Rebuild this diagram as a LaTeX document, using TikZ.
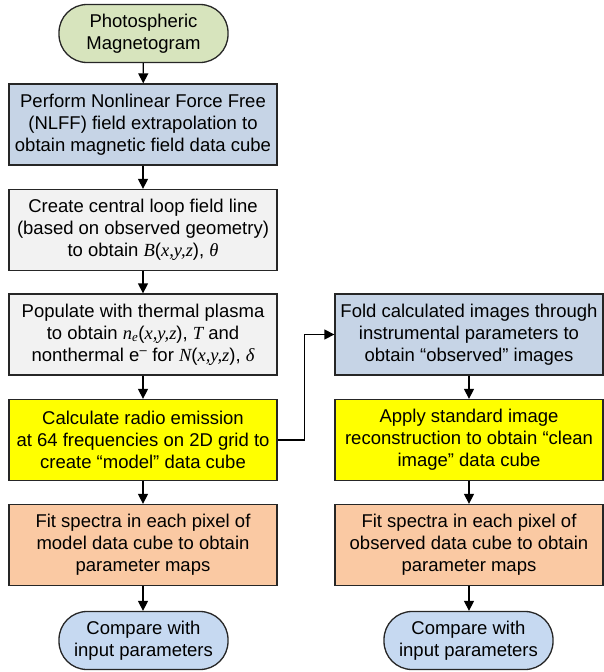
\documentclass[tikz,border=0pt]{standalone}
\usepackage{fontspec}
\setmainfont{Liberation Serif}
\setsansfont{Liberation Sans}
\usepackage{tikz}
\usetikzlibrary{arrows.meta}
\usepackage{xcolor}

\definecolor{startgreen}{HTML}{D7E4BD}
\definecolor{stepblue}{HTML}{C6D4E6}
\definecolor{stepgray}{HTML}{F2F2F2}
\definecolor{stepyellow}{HTML}{FFFF00}
\definecolor{steporange}{HTML}{FAC9A3}
\definecolor{endblue}{HTML}{C6D9F1}

\newcommand{\mv}[1]{{\rmfamily\itshape #1}}

\tikzset{
    procbox/.style={draw=black!85, line width=1.3pt, rectangle,
        minimum width=268pt, minimum height=81pt,
        align=center, inner sep=1pt},
    termbox/.style={draw=black!85, line width=1.3pt, rectangle,
        rounded corners=28pt, minimum width=169pt, minimum height=58pt,
        align=center, inner sep=1pt},
    arr/.style={line width=1.3pt, -{Triangle[length=10pt,width=10pt]}}
}

\begin{document}
\begin{tikzpicture}[x=1pt, y=-1pt,
    every node/.style={font=\sffamily\fontsize{18.5}{22}\selectfont}]
    \useasboundingbox (0,0) rectangle (604,672);

    % left column
    \node[termbox, fill=startgreen] (mag) at (143.5,33.5)
        {Photospheric\\Magnetogram};
    \node[procbox, fill=stepblue] (nlff) at (143,124.5)
        {Perform Nonlinear Force Free\\(NLFF) field extrapolation to\\obtain magnetic field data cube};
    \node[procbox, fill=stepgray] (loop) at (143,230)
        {Create central loop field line\\(based on observed geometry)\\to obtain \mv{B}(\mv{x,y,z}), \mv{θ}};
    \node[procbox, fill=stepgray] (plasma) at (143,334.5)
        {Populate with thermal plasma\\to obtain \mv{n\textsubscript{e}}(\mv{x,y,z}), \mv{T} and\\nonthermal e\textsuperscript{–} for \mv{N}(\mv{x,y,z}), \mv{δ}};
    \node[procbox, fill=stepyellow] (radio) at (143,440)
        {Calculate radio emission\\at 64 frequencies on 2D grid to\\create “model” data cube};
    \node[procbox, fill=steporange] (fitm) at (143,545)
        {Fit spectra in each pixel of\\model data cube to obtain\\parameter maps};
    \node[termbox, fill=endblue] (cmpm) at (143.5,640.5)
        {Compare with\\input parameters};

    % right column
    \node[procbox, fill=stepblue] (fold) at (469,334.5)
        {Fold calculated images through\\instrumental parameters to\\obtain “observed” images};
    \node[procbox, fill=stepyellow] (clean) at (469,440)
        {Apply standard image\\reconstruction to obtain “clean\\image” data cube};
    \node[procbox, fill=steporange] (fito) at (469,545)
        {Fit spectra in each pixel of\\observed data cube to obtain\\parameter maps};
    \node[termbox, fill=endblue] (cmpo) at (468.5,640.5)
        {Compare with\\input parameters};

    \draw[arr] (mag) -- (nlff);
    \draw[arr] (nlff) -- (loop);
    \draw[arr] (loop) -- (plasma);
    \draw[arr] (plasma) -- (radio);
    \draw[arr] (radio) -- (fitm);
    \draw[arr] (fitm) -- (cmpm.north -| fitm.south);

    \draw[arr] (radio.east) -- ++(27,0) |- (fold.west);
    \draw[arr] (fold) -- (clean);
    \draw[arr] (clean) -- (fito);
    \draw[arr] (fito.south) -- (fito.south |- cmpo.north);
\end{tikzpicture}
\end{document}
